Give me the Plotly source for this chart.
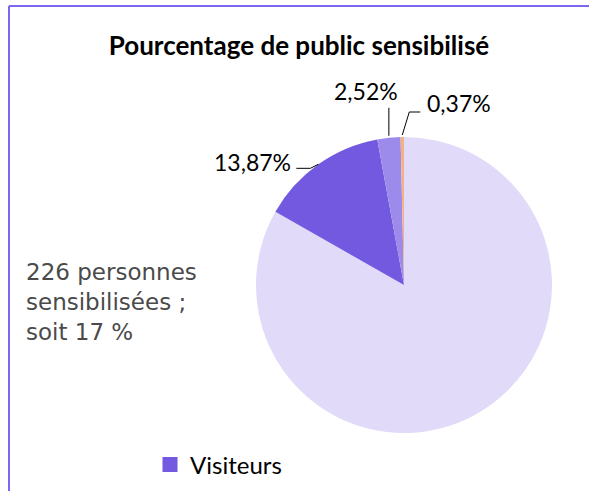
import math
import plotly.graph_objects as go

# ---- data ----
labels = ["Non sensibilisés", "Visiteurs", "Scolaires", "Autres"]
values = [83.24, 13.87, 2.52, 0.37]
value_texts = ["", "13,87%", "2,52%", "0,37%"]
colors = ["#E1DBF9", "#7259DF", "#9D8BEB", "#F4B183"]
title_text = "Pourcentage de public sensibilisé"
side_note = "226 personnes<br>sensibilisées ;<br>soit 17 %"
legend_item = "Visiteurs"

W, H = 589, 491
def px(x):
    return x / W
def py(y):
    return 1 - y / H

# pie geometry (pixels)
cx, cy, r = 404, 285, 148

fig = go.Figure()
fig.add_trace(go.Pie(
    labels=labels, values=values, sort=False, direction="clockwise", rotation=0,
    marker=dict(colors=colors, line=dict(width=0)),
    textinfo="none", showlegend=False, hoverinfo="label+percent",
    domain=dict(x=[px(cx - r), px(cx + r)], y=[py(cy + r), py(cy - r)]),
))
fig.add_trace(go.Scatter(
    x=[None], y=[None], mode="markers", name=legend_item,
    marker=dict(symbol="square", size=15, color=colors[1]),
    showlegend=True,
))

# label placements (styling offsets), angle computed from data
total = sum(values)
cum = 0
mids = []
for v in values:
    mids.append((cum + v / 2) / total * 360)
    cum += v

shapes = []
annotations = []
line_style = dict(color="black", width=1)
for i, (ang, txt) in enumerate(zip(mids, value_texts)):
    if not txt:
        continue
    a = math.radians(ang)
    ex = cx + r * math.sin(a)
    ey = cy - r * math.cos(a)
    if i == 1:   # 13,87%
        mx, my = ex - 8, ey + 4
        tx = mx - 14
        pts = [(ex, ey), (mx, my), (tx, my)]
        annotations.append(dict(x=px(tx - 3), y=py(my - 6), text=txt, xanchor="right", yanchor="middle"))
    elif i == 2:  # 2,52%
        pts = [(ex, ey - 2), (ex, ey - 30)]
        annotations.append(dict(x=px(ex - 23), y=py(ey - 47), text=txt, xanchor="center", yanchor="middle"))
    else:        # 0,37%
        pts = [(ex, ey - 2), (ex + 7, ey - 25), (ex + 18, ey - 25)]
        annotations.append(dict(x=px(ex + 23), y=py(ey - 34), text=txt, xanchor="left", yanchor="middle"))
    for (x0, y0), (x1, y1) in zip(pts[:-1], pts[1:]):
        shapes.append(dict(type="line", xref="paper", yref="paper",
                           x0=px(x0), y0=py(y0), x1=px(x1), y1=py(y1), line=line_style))

for a in annotations:
    a.update(xref="paper", yref="paper", showarrow=False,
             font=dict(family="Lato, Open Sans, sans-serif", size=23, color="black"))

annotations.append(dict(
    xref="paper", yref="paper", x=px(24), y=py(302), text=side_note, showarrow=False,
    xanchor="left", yanchor="middle", align="left",
    font=dict(family="DejaVu Sans, Verdana, sans-serif", size=23, color="#4a4a4a"),
))

# chart frame: top and left edges
border = dict(color="#7B68EE", width=2)
top_y = 6
shapes.append(dict(type="line", xref="paper", yref="paper",
                   x0=px(9), y0=py(top_y), x1=1.0, y1=py(top_y), line=border, layer="above"))
shapes.append(dict(type="line", xref="paper", yref="paper",
                   x0=px(9), y0=py(top_y), x1=px(9), y1=0.0, line=border, layer="above"))

fig.update_layout(
    width=W, height=H,
    margin=dict(l=0, r=0, t=0, b=0),
    paper_bgcolor="white", plot_bgcolor="white",
    title=dict(text="<b>" + title_text + "</b>", x=px(299), xanchor="center",
               y=py(46), yanchor="middle",
               font=dict(family="Lato, Open Sans, sans-serif", size=26, color="black")),
    xaxis=dict(visible=False), yaxis=dict(visible=False),
    showlegend=True,
    legend=dict(x=px(150), y=py(465), xanchor="left", yanchor="middle",
                font=dict(family="Lato, Open Sans, sans-serif", size=24, color="black"),
                bgcolor="rgba(0,0,0,0)", itemwidth=30),
    shapes=shapes, annotations=annotations,
)

fig.write_html("out.html", config={"displayModeBar": False},
               post_script="document.body.style.margin='0';document.body.style.overflow='hidden';")
